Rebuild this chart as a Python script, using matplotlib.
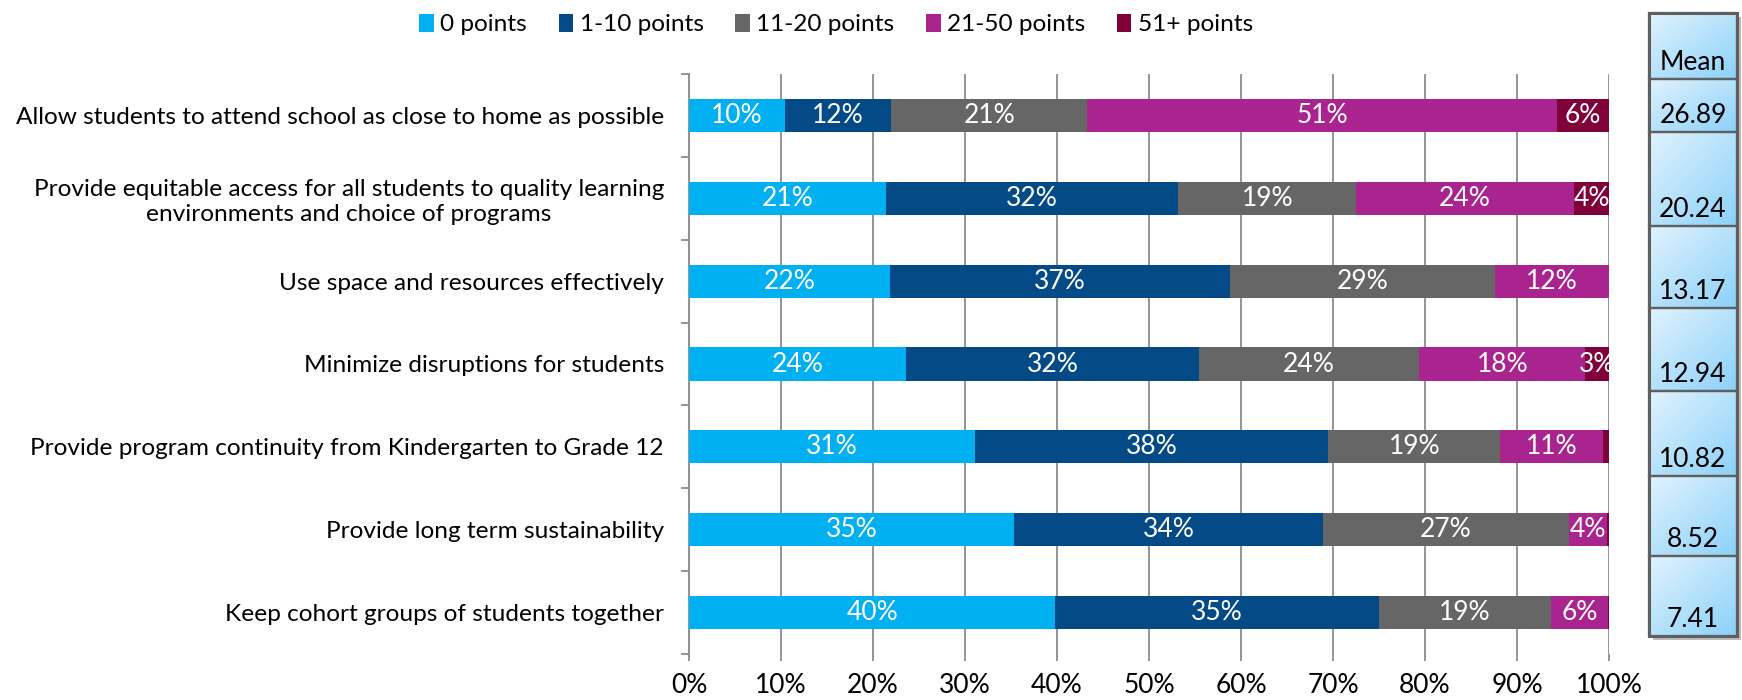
import matplotlib
matplotlib.use("Agg")
import matplotlib.pyplot as plt
import numpy as np
from matplotlib.patches import Rectangle

plt.rcParams['font.family'] = ['Lato', 'DejaVu Sans']

# ---------------- data ----------------
categories = [
    "Allow students to attend school as close to home as possible",
    "Provide equitable access for all students to quality learning\nenvironments and choice of programs",
    "Use space and resources effectively",
    "Minimize disruptions for students",
    "Provide program continuity from Kindergarten to Grade 12",
    "Provide long term sustainability",
    "Keep cohort groups of students together",
]
series_names = ["0 points", "1-10 points", "11-20 points", "21-50 points", "51+ points"]
pts_0 = [10.4, 21.4, 21.9, 23.6, 31.1, 35.3, 39.8]
pts_1_10 = [11.6, 31.8, 36.9, 31.8, 38.4, 33.6, 35.2]
pts_11_20 = [21.3, 19.3, 28.8, 24.0, 18.7, 26.7, 18.7]
pts_21_50 = [51.1, 23.7, 12.4, 18.0, 11.1, 4.2, 6.2]
pts_51 = [5.6, 3.8, 0.0, 2.6, 0.7, 0.2, 0.1]
means = [26.89, 20.24, 13.17, 12.94, 10.82, 8.52, 7.41]

colors = ["#00B0F0", "#034A87", "#666666", "#AA2490", "#80003A"]
FS = 17.6       # category labels / legend
FS_NUM = 19     # percentages
FS_MEAN = 19    # mean table

W, H = 1742, 700
fig = plt.figure(figsize=(W / 100, H / 100), dpi=100)

# main axes (pixel positions)
ax_l, ax_r, ax_t, ax_b = 689, 1609, 74, 654
ax = fig.add_axes([ax_l / W, 1 - ax_b / H, (ax_r - ax_l) / W, (ax_b - ax_t) / H])

y = np.arange(len(categories))
left = np.zeros(len(categories))
handles = []
for vals, name, col in zip([pts_0, pts_1_10, pts_11_20, pts_21_50, pts_51], series_names, colors):
    vals = np.array(vals) / 100.0
    b = ax.barh(y, vals, left=left, height=0.4, color=col, label=name, zorder=3)
    handles.append(b)
    for yi, (l, v) in enumerate(zip(left, vals)):
        if v * 100 >= 2:
            ax.text(l + v / 2, yi, f"{round(v * 100)}%", ha="center", va="center",
                    color="white", fontsize=FS_NUM, zorder=4)
    left += vals

ax.set_xlim(0, 1)
ax.set_ylim(len(categories) - 0.5, -0.5)
ax.set_xticks(np.arange(0, 1.01, 0.1))
ax.set_xticklabels([f"{int(round(t * 100))}%" for t in np.arange(0, 1.01, 0.1)], fontsize=FS_NUM)
ax.set_yticks(y)
ax.set_yticklabels(categories, fontsize=FS, multialignment="center")
ax.set_yticks(np.arange(-0.5, len(categories)), minor=True)
ax.tick_params(axis="y", which="major", length=0, pad=18)
ax.tick_params(axis="y", which="minor", length=6, width=1.3, color="#8C8C8C")
ax.tick_params(axis="x", length=5, width=1.3, color="#8C8C8C", pad=9)
ax.xaxis.grid(True, color="#8C8C8C", linewidth=1.3, zorder=0)
ax.set_axisbelow(True)
for s in ["top", "right", "bottom"]:
    ax.spines[s].set_visible(False)
ax.spines["left"].set_color("#8C8C8C")
ax.spines["left"].set_linewidth(1.3)

fig.legend(handles=handles, loc="upper center", bbox_to_anchor=(0.48, 1.012), ncol=5,
           frameon=False, fontsize=FS, handlelength=0.6, handleheight=0.75,
           handletextpad=0.25, columnspacing=1.3)

# ---------- mean table on the right ----------
bx_l, bx_r = 1649, 1737
rows = [13, 79, 132, 226, 308, 391, 476, 556, 636]
tx = fig.add_axes([0, 0, 1, 1])
tx.set_xlim(0, W)
tx.set_ylim(H, 0)
tx.axis("off")

gx = np.linspace(0, 1, 40)
gy = np.linspace(0, 1, 40)
gxx, gyy = np.meshgrid(gx, gy)
t = (gxx + gyy) / 2
c0 = np.array([0.88, 0.95, 0.99])
c1 = np.array([0.55, 0.82, 0.98])
grad = c0[None, None, :] * (1 - t[..., None]) + c1[None, None, :] * t[..., None]

tx.add_patch(Rectangle((bx_l + 4, rows[0] + 4), bx_r - bx_l, rows[-1] - rows[0],
                       facecolor="#BBBBBB", edgecolor="none", zorder=1))
cell_text = ["Mean"] + [f"{m:.2f}" for m in means]
for i in range(len(rows) - 1):
    top, bot = rows[i], rows[i + 1]
    tx.imshow(grad, extent=(bx_l, bx_r, bot, top), aspect="auto", zorder=2)
    tx.add_patch(Rectangle((bx_l, top), bx_r - bx_l, bot - top, facecolor="none",
                           edgecolor="#5F5F5F", linewidth=1.6, zorder=3))
    tx.text((bx_l + bx_r) / 2, bot - 9, cell_text[i], ha="center", va="baseline",
            fontsize=FS_MEAN, color="black", zorder=4)
tx.add_patch(Rectangle((bx_l, rows[0]), bx_r - bx_l, rows[-1] - rows[0], facecolor="none",
                       edgecolor="#5F5F5F", linewidth=2.2, zorder=5))
tx.set_xlim(0, W)
tx.set_ylim(H, 0)

fig.savefig("out.png", dpi=100)
